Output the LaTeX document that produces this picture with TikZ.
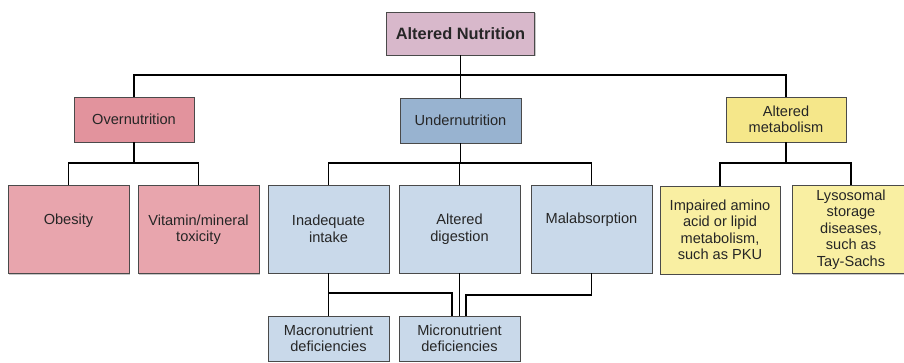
\documentclass[tikz,border=0pt]{standalone}
\usepackage{fontspec}
\setmainfont{Liberation Sans}
\usetikzlibrary{shadows}
\definecolor{cTop}{HTML}{D8B8CB}
\definecolor{cOverA}{HTML}{E2939D}
\definecolor{cOverB}{HTML}{E8A5AD}
\definecolor{cUnderA}{HTML}{98B3D0}
\definecolor{cUnderB}{HTML}{C9D9EA}
\definecolor{cMetaA}{HTML}{F5E78A}
\definecolor{cMetaB}{HTML}{F9EFA2}
\definecolor{cText}{HTML}{262626}
\definecolor{cBorder}{HTML}{4A4A4A}
\tikzset{
  box/.style={draw=cBorder, line width=0.9pt, align=center, inner sep=0pt,
    text=cText, font=\fontsize{14.6}{16.5}\selectfont,
    drop shadow={shadow xshift=1.3pt, shadow yshift=-1.3pt, fill=black, opacity=0.22}},
  hbox/.style={box, minimum width=120pt, minimum height=45pt},
  tbox/.style={box, minimum width=121pt, minimum height=88pt},
  link/.style={draw=black, line width=1.5pt}
}
\begin{document}
\begin{tikzpicture}[x=1pt, y=-1pt]
\useasboundingbox[fill=white] (0,0) rectangle (904,363);
% level 0
\node[box, fill=cTop, minimum width=148pt, minimum height=43pt,
  font=\fontsize{16.4}{18}\selectfont\bfseries] (top) at (460.5,33.5) {Altered Nutrition};
% level 1
\node[hbox, fill=cOverA] (over) at (134,119.5) {Overnutrition};
\node[hbox, fill=cUnderA, minimum width=121pt] (under) at (460.5,120.5) {Undernutrition};
\node[hbox, fill=cMetaA] (meta) at (786,119.5) {Altered\\metabolism};
% level 2
\node[tbox, fill=cOverB] (obes) at (68.5,229.5) {Obesity\\\strut};
\node[tbox, fill=cOverB] (vita) at (198.5,229.5) {Vitamin/mineral\\toxicity};
\node[tbox, fill=cUnderB] (inad) at (328.5,229) {Inadequate\\intake};
\node[tbox, fill=cUnderB] (dige) at (459.5,229) {Altered\\digestion};
\node[tbox, fill=cUnderB] (mala) at (591.5,229) {Malabsorption\\\strut};
\node[tbox, fill=cMetaB, minimum width=120pt] (impa) at (720,230) {Impaired amino\\acid or lipid\\metabolism,\\such as PKU};
\node[tbox, fill=cMetaB, minimum width=118pt] (lyso) at (851,229.5) {Lysosomal\\storage\\diseases,\\such as\\Tay-Sachs};
% level 3
\node[hbox, fill=cUnderB, minimum width=121pt] (macr) at (328.5,338.5) {Macronutrient\\deficiencies};
\node[hbox, fill=cUnderB, minimum width=121pt] (micr) at (459.5,338.5) {Micronutrient\\deficiencies};
% bus rows
\coordinate (r1) at (0,75);
\coordinate (r2) at (0,163);
\coordinate (r3) at (0,293);
\coordinate (r4) at (0,295);
% connectors
\draw[link] (top.south) -- (top.south |- r1);
\draw[link] (over.north) |- (r1 -| meta.north) -- (meta.north);
\draw[link] (under.north) -- (under.north |- r1);
\draw[link] (over.south) -- (over.south |- r2);
\draw[link] (obes.north) |- (r2 -| vita.north) -- (vita.north);
\draw[link] (under.south) -- (under.south |- r2);
\draw[link] (inad.north) |- (r2 -| mala.north) -- (mala.north);
\draw[link] (dige.north) -- (dige.north |- r2);
\draw[link] (meta.south) -- (meta.south |- r2);
\draw[link] (impa.north) |- (r2 -| lyso.north) -- (lyso.north);
\draw[link] (inad.south) -- (macr.north);
\draw[link] ([xshift=-7.5pt]micr.north) |- (r3 -| inad.south);
\draw[link] (dige.south) -- (micr.north);
\draw[link] ([xshift=6.5pt]micr.north) |- (r4 -| mala.south) -- (mala.south);
\end{tikzpicture}
\end{document}
